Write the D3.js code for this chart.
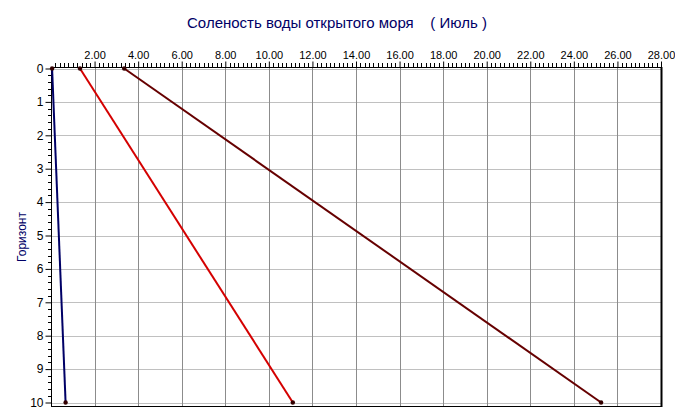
<!DOCTYPE html>
<html><head><meta charset="utf-8">
<script src="https://cdn.jsdelivr.net/npm/d3@7"></script>
<style>html,body{margin:0;padding:0;background:#fff;}svg{display:block;}</style>
</head><body>
<svg id="chart" width="675" height="419"></svg>
<script>
const title = "Соленость воды открытого моря    ( Июль )";
const yTitle = "Горизонт";
const horizons = [0, 10];
const seriesBlue = [0.05, 0.67];
const seriesRed = [1.33, 11.1];
const seriesDark = [3.36, 25.25];
const xTicks = [2, 4, 6, 8, 10, 12, 14, 16, 18, 20, 22, 24, 26, 28];
const yTicks = [0, 1, 2, 3, 4, 5, 6, 7, 8, 9, 10];

const series = [
  {values: seriesBlue, color: "#000066"},
  {values: seriesRed, color: "#d40000"},
  {values: seriesDark, color: "#660000"}
];

const svg = d3.select("#chart");
const L = 51, R = 661, T = 67, B = 406;
const x = d3.scaleLinear().domain([0, 28]).range([L, R]);
const y = d3.scaleLinear().domain([0, 10]).range([68.5, 402.5]);

// grid
svg.append("g").selectAll("line").data(yTicks).join("line")
  .attr("x1", L).attr("x2", R).attr("y1", d => Math.round(y(d)) + 0.5).attr("y2", d => Math.round(y(d)) + 0.5)
  .attr("stroke", "#c0c0c0").attr("stroke-width", 1);
svg.append("g").selectAll("line").data(xTicks.filter(d => d < 28)).join("line")
  .attr("y1", T).attr("y2", B).attr("x1", d => Math.round(x(d)) + 0.5).attr("x2", d => Math.round(x(d)) + 0.5)
  .attr("stroke", "#8c8c8c").attr("stroke-width", 1);

// top axis
const xAxis = d3.axisTop(x).tickValues(xTicks).tickFormat(d3.format(".2f")).tickSize(6).tickPadding(3);
const gx = svg.append("g").attr("transform", `translate(0,${T + 0.5})`).call(xAxis);
gx.select(".domain").remove();
gx.selectAll("text").attr("font-family", "Liberation Sans, Arial, sans-serif").attr("font-size", 11).attr("fill", "#000");
gx.selectAll(".tick line").attr("stroke", "#000");
const xMinor = d3.range(0, 28.001, 0.2).filter(v => Math.abs(v / 2 - Math.round(v / 2)) > 1e-6);
svg.append("g").selectAll("line").data(xMinor).join("line")
  .attr("x1", d => Math.round(x(d)) + 0.5).attr("x2", d => Math.round(x(d)) + 0.5)
  .attr("y1", T - 4).attr("y2", T).attr("stroke", "#000");

// left axis
const yAxis = d3.axisLeft(y).tickValues(yTicks).tickFormat(d3.format("d")).tickSize(6).tickPadding(2);
const gy = svg.append("g").attr("transform", `translate(${L + 0.5},0)`).call(yAxis);
gy.select(".domain").remove();
gy.selectAll("text").attr("font-family", "Liberation Sans, Arial, sans-serif").attr("font-size", 12).attr("fill", "#000");
gy.selectAll(".tick line").attr("stroke", "#000");
const yMinor = d3.range(0, 10.001, 0.2).filter(v => Math.abs(v - Math.round(v)) > 1e-6);
svg.append("g").selectAll("line").data(yMinor).join("line")
  .attr("y1", d => Math.round(y(d)) + 0.5).attr("y2", d => Math.round(y(d)) + 0.5)
  .attr("x1", L - 3).attr("x2", L).attr("stroke", "#000");

// frame
svg.append("line").attr("x1", L).attr("x2", R + 1).attr("y1", T + 0.5).attr("y2", T + 0.5).attr("stroke", "#000");
svg.append("line").attr("x1", L + 0.5).attr("x2", L + 0.5).attr("y1", T).attr("y2", B + 1).attr("stroke", "#000");
svg.append("line").attr("x1", L).attr("x2", R + 1).attr("y1", B + 0.5).attr("y2", B + 0.5).attr("stroke", "#000");
svg.append("line").attr("x1", R + 0.5).attr("x2", R + 0.5).attr("y1", T).attr("y2", B + 1).attr("stroke", "#000").attr("stroke-width", 2);

// series
const line = d3.line().x(d => x(d[0])).y(d => y(d[1]));
series.forEach(s => {
  const pts = s.values.map((v, i) => [v, horizons[i]]);
  svg.append("path").datum(pts).attr("d", line).attr("fill", "none")
    .attr("stroke", s.color).attr("stroke-width", 2);
  svg.append("g").selectAll("circle").data(pts).join("circle")
    .attr("cx", d => x(d[0])).attr("cy", d => y(d[1])).attr("r", 2.2).attr("fill", "#330000");
});

// titles
svg.append("text").attr("x", 337).attr("y", 28).attr("text-anchor", "middle")
  .attr("font-family", "Liberation Sans, Arial, sans-serif").attr("font-size", 15).attr("fill", "#000066")
  .attr("xml:space", "preserve").style("white-space", "pre").text(title);
svg.append("text").attr("transform", "translate(26,237) rotate(-90)").attr("text-anchor", "middle")
  .attr("font-family", "Liberation Sans, Arial, sans-serif").attr("font-size", 12).attr("fill", "#000066")
  .text(yTitle);
</script>
</body></html>
